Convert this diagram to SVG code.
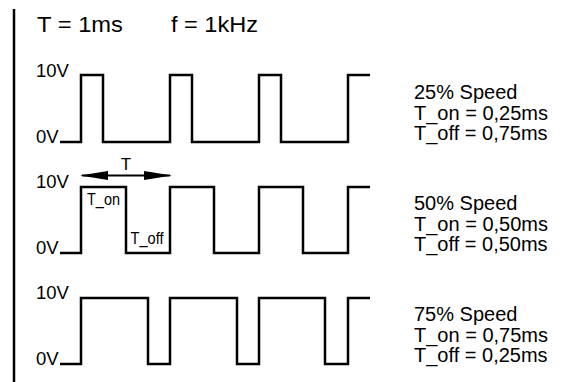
<svg xmlns="http://www.w3.org/2000/svg" width="567" height="382" viewBox="0 0 567 382">
  <style>
    text { font-family: "Liberation Sans", Arial, sans-serif; fill: #000; }
    .hdr { font-size: 22px; }
    .lvl { font-size: 18.5px; }
    .info { font-size: 20px; }
    .sm { font-size: 16.5px; }
    .wave { fill: none; stroke: #000; stroke-width: 2.5; stroke-linejoin: miter; }
    .axis { stroke: #000; stroke-width: 2.5; }
  </style>
  <defs>
    <marker id="ah" markerUnits="userSpaceOnUse" markerWidth="28" markerHeight="10" refX="26" refY="5" orient="auto-start-reverse">
      <path d="M0,0.5 L28,5 L0,9.5 Z" fill="#000"/>
    </marker>
  </defs>
  <rect width="567" height="382" fill="#fff"/>
  <line class="axis" x1="14" y1="9" x2="14" y2="382"/>
  <g id="header">
    <text class="hdr" x="37" y="32" textLength="86" lengthAdjust="spacingAndGlyphs">T = 1ms</text>
    <text class="hdr" x="171" y="32" textLength="87" lengthAdjust="spacingAndGlyphs">f = 1kHz</text>
  </g>
  <g id="wave25">
    <text class="lvl" x="36" y="76.5">10V</text>
    <text class="lvl" x="36" y="142.5">0V</text>
    <path class="wave" d="M60,142 H81 V75 H103 V142 H170 V75 H192 V142 H259 V75 H281 V142 H348 V75 H370"/>
    <text class="info" x="414" y="99">25% Speed</text>
    <text class="info" x="414" y="119.5">T_on = 0,25ms</text>
    <text class="info" x="414" y="140">T_off = 0,75ms</text>
  </g>
  <g id="wave50">
    <text class="lvl" x="36" y="187.5">10V</text>
    <text class="lvl" x="36" y="253.5">0V</text>
    <path class="wave" d="M60,253 H81 V187 H126 V253 H170 V187 H214 V253 H259 V187 H303 V253 H348 V187 H370"/>
    <text class="sm" x="87" y="205" textLength="33" lengthAdjust="spacingAndGlyphs">T_on</text>
    <text class="sm" x="130.5" y="244" textLength="33" lengthAdjust="spacingAndGlyphs">T_off</text>
    <text class="info" x="414" y="210">50% Speed</text>
    <text class="info" x="414" y="230.5">T_on = 0,50ms</text>
    <text class="info" x="414" y="251">T_off = 0,50ms</text>
  </g>
  <g id="wave75">
    <text class="lvl" x="36" y="298.5">10V</text>
    <text class="lvl" x="36" y="364.5">0V</text>
    <path class="wave" d="M60,364 H81 V298 H148 V364 H170 V298 H237 V364 H259 V298 H325 V364 H348 V298 H370"/>
    <text class="info" x="414" y="321">75% Speed</text>
    <text class="info" x="414" y="341.5">T_on = 0,75ms</text>
    <text class="info" x="414" y="362">T_off = 0,25ms</text>
  </g>
  <g id="connectors">
    <line x1="82" y1="175.5" x2="170" y2="175.5" stroke="#000" stroke-width="2" marker-start="url(#ah)" marker-end="url(#ah)"/>
    <text x="126" y="169.5" text-anchor="middle" style="font-size:17px">T</text>
  </g>
</svg>
